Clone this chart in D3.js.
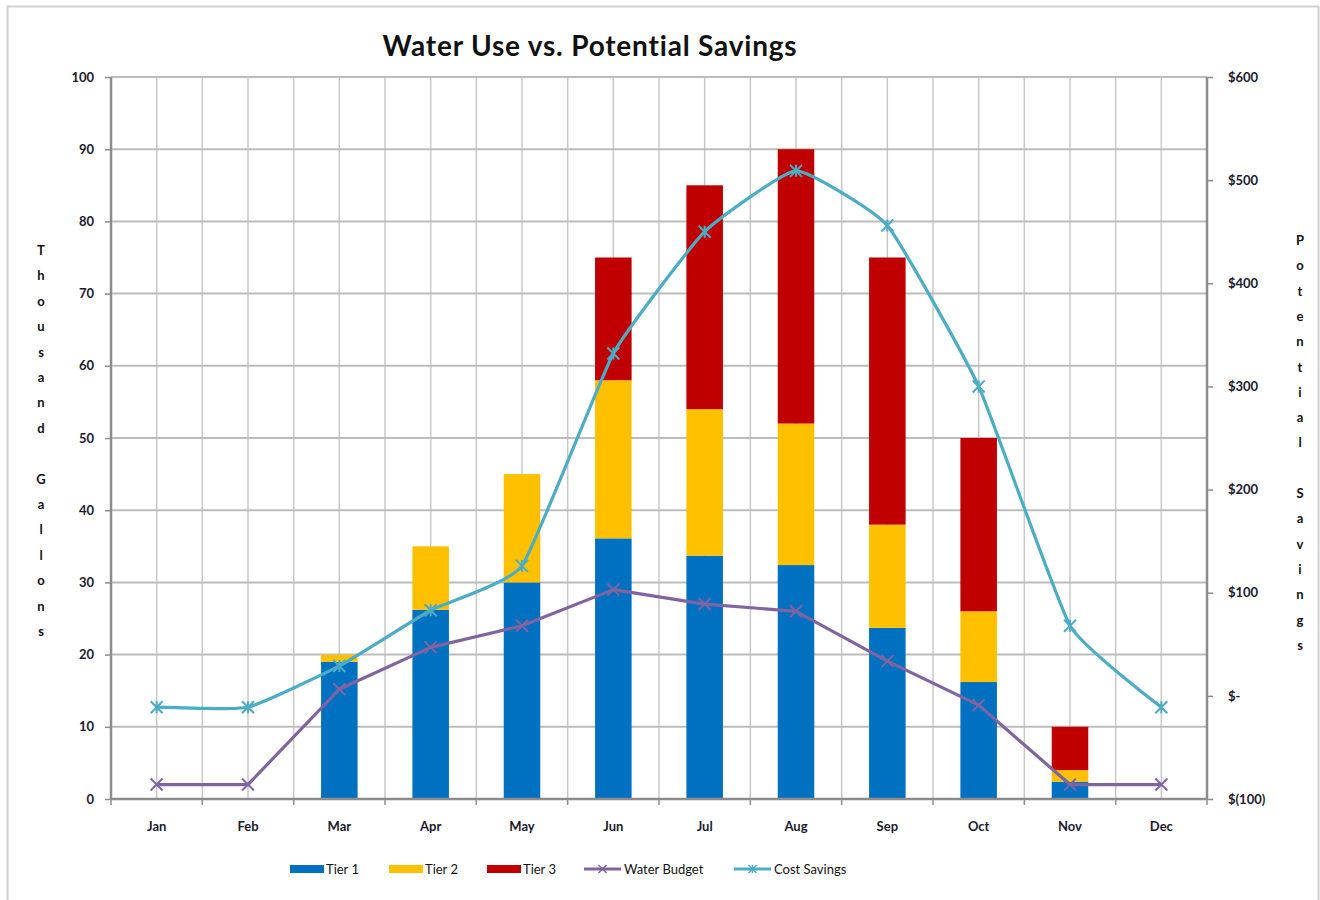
<!DOCTYPE html>
<html>
<head>
<meta charset="utf-8">
<script src="https://cdn.jsdelivr.net/npm/d3@7"></script>
<style>
  html, body { margin: 0; padding: 0; background: #fff; }
  svg { display: block; }
  text { font-family: Lato, "Open Sans", sans-serif; }
</style>
</head>
<body>
<svg id="chart" width="1320" height="900"></svg>
<script>
const months = ["Jan","Feb","Mar","Apr","May","Jun","Jul","Aug","Sep","Oct","Nov","Dec"];
const tier1 = [0, 0, 19, 26.2, 30, 36.1, 33.7, 32.4, 23.7, 16.2, 2.4, 0];
const tier2 = [0, 0, 1, 8.8, 15, 21.9, 20.3, 19.6, 14.3, 9.8, 1.6, 0];
const tier3 = [0, 0, 0, 0, 0, 17, 31, 38, 37, 24, 6, 0];
const waterBudget = [2, 2, 15.2, 21, 24, 29, 27, 26, 19.1, 13, 2, 2];
const costSavings = [-11, -11, 29, 83, 126, 332, 450, 509, 456, 300, 68, -11];
const leftTicks = [0,10,20,30,40,50,60,70,80,90,100];
const rightTicks = [-100,0,100,200,300,400,500,600];
const rightTickLabels = ["$(100)","$-","$100","$200","$300","$400","$500","$600"];
const seriesNames = ["Tier 1","Tier 2","Tier 3","Water Budget","Cost Savings"];
const colors = {t1:"#0070C0", t2:"#FFC000", t3:"#C00000", wb:"#8064A2", cs:"#4BACC6"};

const svg = d3.select("#chart");
const L = 111, R = 1207, T = 77, B = 799;

// outer border
svg.append("rect").attr("x",7.5).attr("y",6.5).attr("width",1311).attr("height",900)
  .attr("fill","none").attr("stroke","#d0d0d0").attr("stroke-width",2);

const x = d3.scaleBand().domain(months).range([L,R]).paddingInner(0).paddingOuter(0);
const yL = d3.scaleLinear().domain([0,100]).range([B,T]);
const yR = d3.scaleLinear().domain([-100,600]).range([B,T]);
const bw = x.bandwidth();
const cx = m => x(m) + bw/2;

const grid = svg.append("g");
// vertical gridlines at category centers and boundaries
const vlines = [];
months.forEach(m => { vlines.push(x(m)); vlines.push(cx(m)); });
vlines.push(R);
grid.selectAll("line.v").data(vlines.filter(v => v > L + 1 && v < R - 1)).enter().append("line")
  .attr("x1",d=>d).attr("x2",d=>d).attr("y1",T).attr("y2",B)
  .attr("stroke","#c8c8c8").attr("stroke-width",1.5);
// horizontal gridlines
grid.selectAll("line.h").data(leftTicks.filter(t=>t>0)).enter().append("line")
  .attr("x1",L).attr("x2",R).attr("y1",d=>yL(d)).attr("y2",d=>yL(d))
  .attr("stroke","#bcbcbc").attr("stroke-width",2);

// stacked bars
const stackData = months.map((m,i)=>({m, t1:tier1[i], t2:tier2[i], t3:tier3[i]}));
const stack = d3.stack().keys(["t1","t2","t3"])(stackData);
const barW = bw * 0.4;
const bars = svg.append("g");
stack.forEach(layer => {
  bars.selectAll(null).data(layer).enter().append("rect")
    .attr("x", d => cx(d.data.m) - barW/2)
    .attr("width", barW)
    .attr("y", d => yL(d[1]))
    .attr("height", d => Math.max(0, yL(d[0]) - yL(d[1])))
    .attr("fill", colors[layer.key]);
});

// axes lines
const axisColor = "#8c8c8c";
const axL = svg.append("g").attr("transform",`translate(${L},0)`)
  .call(d3.axisLeft(yL).tickValues(leftTicks).tickSize(6).tickFormat(d3.format("d")));
const axR = svg.append("g").attr("transform",`translate(${R},0)`)
  .call(d3.axisRight(yR).tickValues(rightTicks).tickSize(6).tickFormat((d,i)=>rightTickLabels[i]));
const bounds = months.map(m=>x(m)).concat([R]);
const axB = svg.append("g").attr("transform",`translate(0,${B})`)
  .call(d3.axisBottom(x).tickSize(0));
[axL, axR, axB].forEach(a => {
  a.select(".domain").attr("stroke",axisColor).attr("stroke-width",2.5);
  a.selectAll(".tick line").attr("stroke",axisColor).attr("stroke-width",1.5);
  a.selectAll("text").attr("font-family","Lato, sans-serif").attr("font-weight","bold")
    .attr("font-size",13).attr("fill","#1a1a2e");
});
axL.select(".domain").attr("d",`M0,${T}V${B}`);
axR.select(".domain").attr("d",`M0,${T}V${B}`);
axL.selectAll("text").attr("x",-17);
axR.selectAll("text").attr("x",21);
axB.selectAll("text").attr("dy",0).attr("y",32);
axB.select(".domain").attr("d",`M${L},0H${R}`);
// bottom tick marks at boundaries
svg.append("g").selectAll("line").data(bounds).enter().append("line")
  .attr("x1",d=>d).attr("x2",d=>d).attr("y1",B).attr("y2",B+6)
  .attr("stroke",axisColor).attr("stroke-width",1.5);

// lines
const lineWB = d3.line().x((d,i)=>cx(months[i])).y(d=>yL(d));
const lineCS = d3.line().x((d,i)=>cx(months[i])).y(d=>yR(d)).curve(d3.curveCardinal.tension(0.6));
svg.append("path").datum(waterBudget).attr("d",lineWB).attr("fill","none")
  .attr("stroke",colors.wb).attr("stroke-width",3.2).attr("stroke-linejoin","round");
svg.append("path").datum(costSavings).attr("d",lineCS).attr("fill","none")
  .attr("stroke",colors.cs).attr("stroke-width",3.2).attr("stroke-linejoin","round");

function xMarker(g, px, py, col, star) {
  const s = 6;
  g.append("path").attr("d",`M${px-s},${py-s}L${px+s},${py+s}M${px-s},${py+s}L${px+s},${py-s}` + (star?`M${px},${py-s}L${px},${py+s}`:""))
    .attr("stroke",col).attr("stroke-width",2).attr("fill","none");
}
const mk = svg.append("g");
waterBudget.forEach((v,i)=>xMarker(mk, cx(months[i]), yL(v), colors.wb, false));
costSavings.forEach((v,i)=>xMarker(mk, cx(months[i]), yR(v), colors.cs, true));

// title
svg.append("text").attr("x",590).attr("y",56).attr("text-anchor","middle")
  .attr("font-size",28).attr("font-weight","bold").attr("fill","#111")
  .attr("letter-spacing","0.8px")
  .text("Water Use vs. Potential Savings");

// vertical axis titles (stacked letters)
function stacked(txt, px, py0, step) {
  const g = svg.append("text").attr("font-size",13).attr("font-weight","bold").attr("fill","#111")
    .attr("text-anchor","middle");
  txt.split("").forEach((ch,i)=>{
    g.append("tspan").attr("x",px).attr("y",py0+i*step).text(ch === " " ? "\u00a0" : ch);
  });
}
stacked("Thousand Gallons", 41, 255, 25.4);
stacked("Potential Savings", 1300, 245, 25.3);

// legend
const leg = svg.append("g").attr("font-size",13);
const legItems = [
  {name:seriesNames[0], col:colors.t1, type:"bar", x:290},
  {name:seriesNames[1], col:colors.t2, type:"bar", x:389},
  {name:seriesNames[2], col:colors.t3, type:"bar", x:487},
  {name:seriesNames[3], col:colors.wb, type:"line", x:584},
  {name:seriesNames[4], col:colors.cs, type:"line", x:734}
];
const ly = 869;
legItems.forEach((it,i)=>{
  if (it.type === "bar") {
    leg.append("rect").attr("x",it.x).attr("y",ly-4).attr("width",34).attr("height",8).attr("fill",it.col);
  } else {
    leg.append("line").attr("x1",it.x).attr("x2",it.x+37).attr("y1",ly).attr("y2",ly)
      .attr("stroke",it.col).attr("stroke-width",3.2);
    const g = leg.append("g");
    const px = it.x+18.5, s=4;
    g.append("path").attr("d",`M${px-s},${ly-s}L${px+s},${ly+s}M${px-s},${ly+s}L${px+s},${ly-s}` + (i===4?`M${px},${ly-s}L${px},${ly+s}`:""))
      .attr("stroke",it.col).attr("stroke-width",1.5);
  }
  leg.append("text").attr("x",it.type==="bar"?it.x+36:it.x+40).attr("y",ly+4.5).attr("fill","#111")
    .text(it.name);
});
</script>
</body>
</html>
